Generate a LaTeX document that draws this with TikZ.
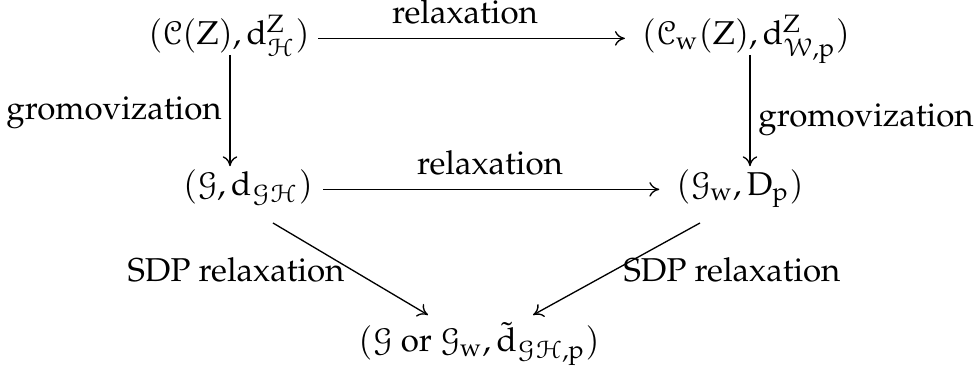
\documentclass[tikz,border=0pt]{standalone}
\usepackage[T1]{fontenc}
\usepackage{amsmath}
\usepackage{mathpazo}
\usepackage[mathcal]{euscript}
\usetikzlibrary{arrows.meta}
\newcommand{\up}[1]{\mathrm{#1}}
\begin{document}
\begin{tikzpicture}[x=0.3026pt,y=-0.3026pt,
  obj/.style={anchor=base,inner sep=0pt},
  lbl/.style={anchor=base,inner sep=0pt},
  arr/.style={-{To[length=3pt,width=4.4pt]},line width=0.4pt}]
\useasboundingbox (0,0) rectangle (975,371);
\node[obj] (A) at (229,45) {$(\mathcal{C}(\up{Z}), \up{d}^{\up{Z}}_{\mathcal{H}})$};
\node[obj] (B) at (746,45) {$(\mathcal{C}_{\up{w}}(\up{Z}), \up{d}^{\up{Z}}_{\mathcal{W},\up{p}})$};
\node[obj] (C) at (248,196) {$(\mathcal{G}, \up{d}_{\mathcal{G}\mathcal{H}})$};
\node[obj] (D) at (740,196) {$(\mathcal{G}_{\up{w}}, \up{D}_{\up{p}})$};
\node[obj] (E) at (479,352) {$(\mathcal{G}\text{ or }\mathcal{G}_{\up{w}}, \tilde{\up{d}}_{\mathcal{G}\mathcal{H},\up{p}})$};
\node[lbl] (l1) at (465,24) {relaxation};
\node[lbl] (l2) at (490,175) {relaxation};
\node[lbl] (l3) at (114,120) {gromovization};
\node[lbl] (l4) at (866,127) {gromovization};
\node[lbl] (l5) at (236,282) {SDP relaxation};
\node[lbl] (l6) at (732,282) {SDP relaxation};
\draw[arr] ([xshift=2.4pt,yshift=2pt]A.base east) -- ([xshift=-5pt,yshift=2pt]B.base west);
\draw[arr] ([xshift=3pt,yshift=2pt]C.base east) -- ([xshift=-5pt,yshift=2pt]D.base west);
\draw[arr] ([xshift=0.3pt,yshift=-3pt]A.base) -- ([xshift=0.3pt,yshift=9pt]A.base |- C.base);
\draw[arr] ([xshift=1.2pt,yshift=-3pt]B.base) -- ([xshift=1.2pt,yshift=9pt]B.base |- D.base);
\coordinate (c1) at (273,223);
\coordinate (c2) at (428,315);
\coordinate (c3) at (700,223);
\coordinate (c4) at (533,315);
\draw[arr] (c1) -- (c2);
\draw[arr] (c3) -- (c4);
\end{tikzpicture}
\end{document}
